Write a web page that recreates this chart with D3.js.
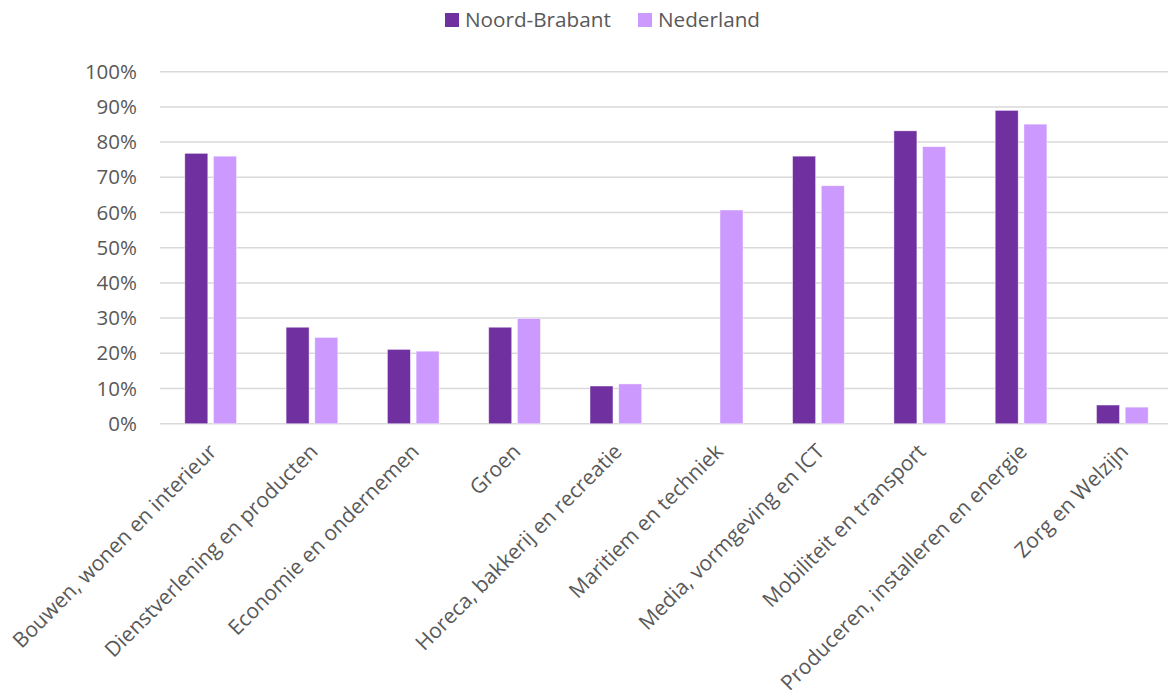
<!DOCTYPE html>
<html>
  <head>
    <meta charset="UTF-8" />
    <title>Noord-Brabant vs Nederland</title>
    <style>
      body { margin: 0; background: #fff; }
      text { font-family: "Open Sans", sans-serif; fill: #595959; }
    </style>
  </head>
  <body>
    <script src="https://cdn.jsdelivr.net/npm/d3@7/dist/d3.min.js"></script>
    <script>
      var categories = [
        "Bouwen, wonen en interieur",
        "Dienstverlening en producten",
        "Economie en ondernemen",
        "Groen",
        "Horeca, bakkerij en recreatie",
        "Maritiem en techniek",
        "Media, vormgeving en ICT",
        "Mobiliteit en transport",
        "Produceren, installeren en energie",
        "Zorg en Welzijn"
      ];
      var seriesNames = ["Noord-Brabant", "Nederland"];
      var noordBrabant = [76.8, 27.4, 21.1, 27.4, 10.7, null, 76.0, 83.2, 89.0, 5.3];
      var nederland = [76.0, 24.5, 20.6, 29.9, 11.3, 60.7, 67.6, 78.7, 85.1, 4.7];
      var yTicks = [0, 10, 20, 30, 40, 50, 60, 70, 80, 90, 100];
      var colours = ["#7030A0", "#CC99FF"];

      var width = 1168, height = 691;
      var plotLeft = 160, plotRight = 1173, plotTop = 71.7, plotBottom = 423.7;

      var svg = d3.select("body").append("svg")
        .attr("width", width)
        .attr("height", height);

      var x0 = d3.scaleBand().domain(categories).range([plotLeft, plotRight]).padding(0);
      var x1 = d3.scaleBand().domain(seriesNames)
        .range([x0.bandwidth() * 0.245, x0.bandwidth() * 0.755])
        .paddingInner(0.2);
      var y = d3.scaleLinear().domain([0, 100]).range([plotBottom, plotTop]);

      // gridlines
      svg.append("g").selectAll("line")
        .data(yTicks)
        .enter().append("line")
        .attr("x1", plotLeft).attr("x2", plotRight)
        .attr("y1", function(d) { return y(d); })
        .attr("y2", function(d) { return y(d); })
        .style("stroke", "#D9D9D9")
        .style("stroke-width", 1.5);

      // y labels
      svg.append("g").selectAll("text")
        .data(yTicks)
        .enter().append("text")
        .attr("x", plotLeft - 23)
        .attr("y", function(d) { return y(d); })
        .attr("dy", "0.35em")
        .attr("text-anchor", "end")
        .style("font-size", "20.5px")
        .text(function(d) { return d + "%"; });

      // bars
      var rows = categories.map(function(c, i) {
        return { cat: c, values: [noordBrabant[i], nederland[i]] };
      });

      var groups = svg.append("g").selectAll("g")
        .data(rows)
        .enter().append("g")
        .attr("transform", function(d) { return "translate(" + x0(d.cat) + ",0)"; });

      groups.selectAll("rect")
        .data(function(d) {
          return d.values.map(function(v, j) { return { name: seriesNames[j], v: v, c: colours[j] }; })
            .filter(function(e) { return e.v != null; });
        })
        .enter().append("rect")
        .attr("x", function(d) { return x1(d.name); })
        .attr("width", x1.bandwidth())
        .attr("y", function(d) { return y(d.v); })
        .attr("height", function(d) { return plotBottom - y(d.v); })
        .style("fill", function(d) { return d.c; })
        .style("stroke", "#fff")
        .style("stroke-opacity", 0.5)
        .style("stroke-width", 0.8);

      // x labels
      svg.append("g").selectAll("text")
        .data(categories)
        .enter().append("text")
        .attr("transform", function(d) {
          return "translate(" + (x0(d) + x0.bandwidth() / 2 + 2) + "," + (plotBottom + 24) + ") rotate(-45)";
        })
        .attr("text-anchor", "end")
        .attr("dy", "0.35em")
        .style("font-size", "21px")
        .text(function(d) { return d; });

      // legend
      var legendX = [445, 638];
      var legend = svg.append("g").selectAll("g")
        .data(seriesNames)
        .enter().append("g")
        .attr("transform", function(d, i) { return "translate(" + legendX[i] + ",13)"; });
      legend.append("rect")
        .attr("width", 14).attr("height", 14)
        .style("fill", function(d, i) { return colours[i]; });
      legend.append("text")
        .attr("x", 20).attr("y", 7).attr("dy", "0.35em")
        .style("font-size", "20.7px")
        .text(function(d) { return d; });
    </script>
  </body>
</html>
